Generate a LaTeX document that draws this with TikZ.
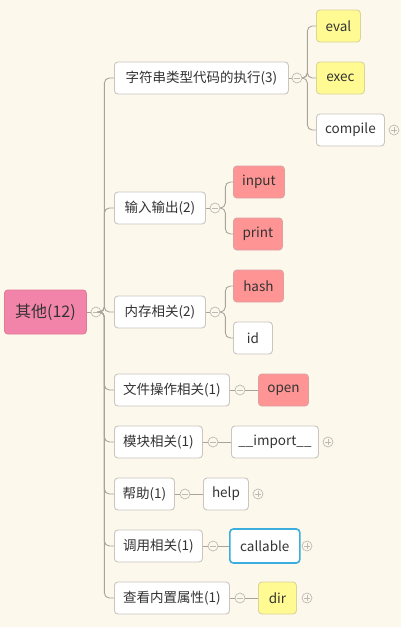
\documentclass[tikz,border=0pt]{standalone}
\usepackage{fontspec}
\setmainfont{Noto Sans CJK SC}
\definecolor{bg}{HTML}{FDF8EC}
\definecolor{lineg}{HTML}{A8A49C}
\definecolor{boxline}{HTML}{C9C6C0}
\definecolor{circg}{HTML}{BDBAB4}
\definecolor{txt}{HTML}{333333}
\definecolor{rootfill}{HTML}{F384A9}
\definecolor{rootline}{HTML}{E07898}
\definecolor{yel}{HTML}{FFFA92}
\definecolor{yelline}{HTML}{D9D49A}
\definecolor{redf}{HTML}{FF9494}
\definecolor{redline}{HTML}{DDA0A0}
\definecolor{blueline}{HTML}{3BAEDD}
\tikzset{
  box/.style={draw=boxline, line width=0.9pt, rounded corners=3.5pt, fill=white,
    minimum height=32pt, inner sep=0pt, anchor=west, text=txt,
    font=\fontsize{13.5}{15}\selectfont},
  rootbox/.style={box, fill=rootfill, draw=rootline, minimum height=44pt,
    font=\fontsize{16}{18}\selectfont},
  yelbox/.style={box, fill=yel, draw=yelline},
  redbox/.style={box, fill=redf, draw=redline},
  bluebox/.style={box, draw=blueline, line width=1.6pt},
  conn/.style={draw=lineg, line width=0.9pt, rounded corners=5pt},
  minusc/.style={circle, draw=circg, line width=0.7pt, fill=bg, minimum size=10pt, inner sep=0pt,
    path picture={\draw[circg, line width=0.7pt] ([xshift=-2.6pt]path picture bounding box.center) -- ([xshift=2.6pt]path picture bounding box.center);}},
  plusc/.style={circle, draw=circg, line width=0.7pt, fill=bg, minimum size=10pt, inner sep=0pt,
    path picture={\draw[circg, line width=0.7pt] ([xshift=-2.6pt]path picture bounding box.center) -- ([xshift=2.6pt]path picture bounding box.center)
      ([yshift=-2.6pt]path picture bounding box.center) -- ([yshift=2.6pt]path picture bounding box.center);}},
}
\begin{document}
\begin{tikzpicture}[x=1pt,y=-1pt]
\fill[bg] (0,0) rectangle (401,627);
\useasboundingbox (0,0) rectangle (401,627);

% root
\node[rootbox, minimum width=82pt] (root) at (4,312) {其他(12)};
\node[minusc] (c0) at (96,312) {};

% level 1
\node[box, minimum width=174pt] (n1) at (114,78) {字符串类型代码的执行(3)};
\node[box, minimum width=91pt] (n2) at (114,208) {输入输出(2)};
\node[box, minimum width=91pt] (n3) at (114,312) {内存相关(2)};
\node[box, minimum width=115pt] (n4) at (114,390) {文件操作相关(1)};
\node[box, minimum width=88pt] (n5) at (114,442) {模块相关(1)};
\node[box, minimum width=60pt] (n6) at (114,494) {帮助(1)};
\node[box, minimum width=88pt] (n7) at (114,546) {调用相关(1)};
\node[box, minimum width=115pt] (n8) at (114,598) {查看内置属性(1)};

\node[minusc] (c1) at (297,78) {};
\node[minusc] (c2) at (215,208) {};
\node[minusc] (c3) at (215,312) {};
\node[minusc] (c4) at (240,390) {};
\node[minusc] (c5) at (213,442) {};
\node[minusc] (c6) at (185,494) {};
\node[minusc] (c7) at (213,546) {};
\node[minusc] (c8) at (240,598) {};

% leaves
\node[yelbox, minimum width=44pt] (eval) at (316,26) {eval};
\node[yelbox, minimum width=48pt] (exec) at (316,78) {exec};
\node[box, minimum width=68pt] (compile) at (316,130) {compile};
\node[redbox, minimum width=51pt] (input) at (233,182) {input};
\node[redbox, minimum width=49pt] (print) at (233,234) {print};
\node[redbox, minimum width=50pt] (hash) at (233,286) {hash};
\node[box, minimum width=39pt] (id) at (233,338) {id};
\node[redbox, minimum width=50pt] (open) at (258,390) {open};
\node[box, minimum width=87pt] (imp) at (231,442) {\_\_import\_\_};
\node[box, minimum width=45pt] (help) at (203,494) {help};
\node[bluebox, minimum width=70pt, minimum height=34pt] (callable) at (229,546) {callable};
\node[yelbox, minimum width=38pt] (dir) at (258,598) {dir};

\node[plusc] (p1) at (394,130) {};
\node[plusc] (p2) at (328,442) {};
\node[plusc] (p3) at (258,494) {};
\node[plusc] (p4) at (307,546) {};
\node[plusc] (p5) at (307,598) {};

% connectors
\draw[conn] (root.east) -- (c0.west);
\foreach \n in {n1,n2,n3,n4,n5,n6,n7,n8}
  \draw[conn] (c0.east) -- ++(3,0) |- (\n.west);
\foreach \a/\b in {n1/c1,n2/c2,n3/c3,n4/c4,n5/c5,n6/c6,n7/c7,n8/c8}
  \draw[conn] (\a.east) -- (\b.west);
\foreach \n in {eval,exec,compile}
  \draw[conn] (c1.east) -- ++(5,0) |- (\n.west);
\foreach \n in {input,print}
  \draw[conn] (c2.east) -- ++(5,0) |- (\n.west);
\foreach \n in {hash,id}
  \draw[conn] (c3.east) -- ++(5,0) |- (\n.west);
\draw[conn] (c4.east) -- (open.west);
\draw[conn] (c5.east) -- (imp.west);
\draw[conn] (c6.east) -- (help.west);
\draw[conn] (c7.east) -- (callable.west);
\draw[conn] (c8.east) -- (dir.west);
\end{tikzpicture}
\end{document}
